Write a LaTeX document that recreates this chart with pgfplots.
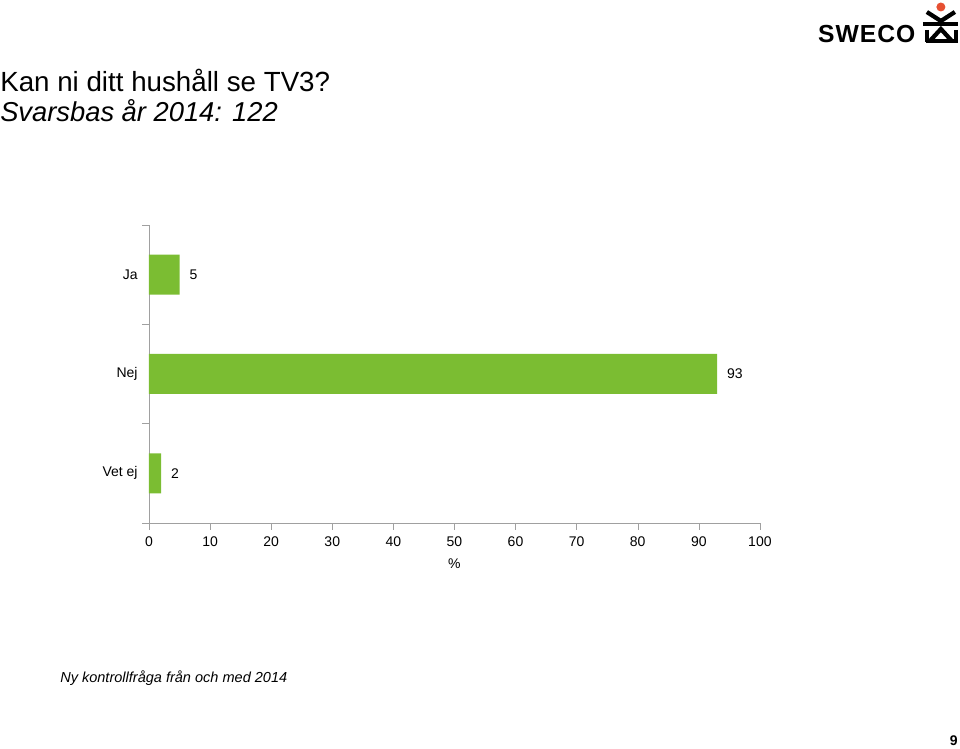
\documentclass[border=0pt]{standalone}
\usepackage{fontspec}
\setmainfont{Liberation Sans}
\usepackage{pgfplots}
\pgfplotsset{compat=1.18}
\definecolor{barg}{RGB}{123,189,50}
\definecolor{axg}{RGB}{160,160,160}
\definecolor{swred}{RGB}{230,80,50}
\begin{document}
\begin{tikzpicture}[x=0.75pt,y=-0.75pt]
% page frame 960x749 px
\path (0,0) rectangle (960,749);
% titles
\node[anchor=base west,inner sep=0,font=\fontsize{20.8}{22}\selectfont] at (0,92) {Kan ni ditt hushåll se TV3?};
\node[anchor=base west,inner sep=0,font=\fontsize{20.5}{22}\selectfont\itshape] at (0,122) {Svarsbas år 2014: 122};
\node[anchor=base west,inner sep=0,font=\fontsize{10.9}{12}\selectfont\itshape] at (60,683) {Ny kontrollfråga från och med 2014};
\node[anchor=base east,inner sep=0,font=\fontsize{10.5}{12}\selectfont\bfseries] at (958,746) {9};
% logo
\node[anchor=base west,inner sep=0,font=\fontsize{18.5}{20}\selectfont\bfseries] at (818,43) {\addfontfeature{LetterSpace=4}SWECO};
\fill[swred] (941,7) circle (4.5);
\draw[line width=3.2pt] (927,12) -- (941,21) -- (955,12);
\draw[line width=3.2pt] (923,24) -- (958,24);
\draw[line width=3.2pt] (930,41) -- (941,29) -- (952,41);
\draw[line width=3.2pt] (926,41) -- (958,41);
\draw[line width=3.2pt] (927,30) -- (927,42);
\draw[line width=3.2pt] (956,30) -- (956,42);
\begin{axis}[
  at={(111.75pt,-392.25pt)}, anchor=south west,
  x=, y=,
  scale only axis, width=458.25pt, height=223.5pt,
  xbar, bar width=30pt,
  xmin=0, xmax=100, ymin=0.5, ymax=3.5,
  axis lines=left, axis line style={axg,-},
  separate axis lines,
  xtick={0,10,...,100},
  ytick={1,2,3}, yticklabels={Vet ej,Nej,Ja},
  major y tick style={draw=none},
  minor ytick={0.5,1.5,2.5,3.5},
  minor tick length=5pt,
  major tick length=5pt,
  tick align=outside,
  x tick style={axg},
  minor y tick style={axg},
  tick label style={font=\fontsize{10.5}{12}\selectfont},
  /pgf/number format/assume math mode=true,
  xticklabel style={yshift=-2pt},
  yticklabel style={xshift=0pt},
  xlabel={\%}, xlabel style={font=\fontsize{10.5}{12}\selectfont,yshift=-2pt},
  nodes near coords,
  nodes near coords style={font=\fontsize{10.5}{12}\selectfont,xshift=4pt},
  clip=false,
]
\addplot[fill=barg,draw=none] coordinates {(5,3) (93,2) (2,1)};
\end{axis}
\end{tikzpicture}
\end{document}
